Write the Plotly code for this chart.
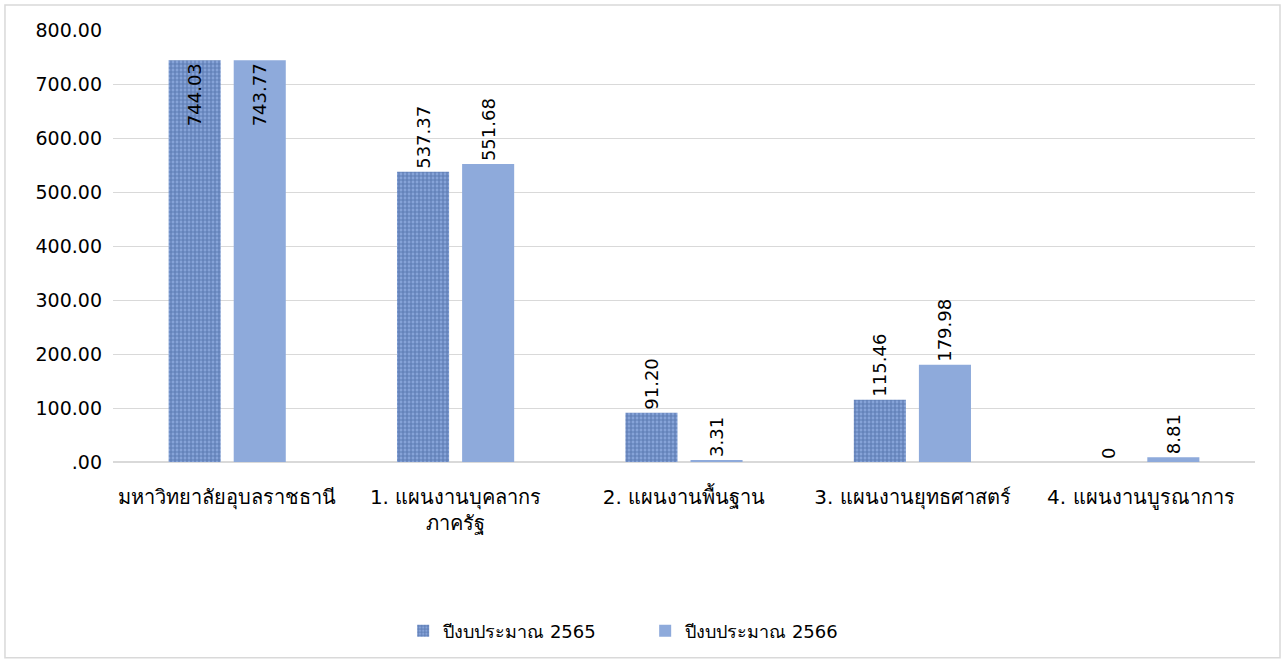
import plotly.graph_objects as go

categories = ["มหาวิทยาลัยอุบลราชธานี", "1. แผนงานบุคลากร<br>ภาครัฐ", "2. แผนงานพื้นฐาน",
              "3. แผนงานยุทธศาสตร์", "4. แผนงานบูรณาการ"]
series_names = ["ปีงบประมาณ 2565", "ปีงบประมาณ 2566"]
values_2565 = [744.03, 537.37, 91.20, 115.46, 0]
values_2566 = [743.77, 551.68, 3.31, 179.98, 8.81]
labels_2565 = ["744.03", "537.37", "91.20", "115.46", "0"]
labels_2566 = ["743.77", "551.68", "3.31", "179.98", "8.81"]
tick_vals = [0, 100, 200, 300, 400, 500, 600, 700, 800]
tick_text = [".00", "100.00", "200.00", "300.00", "400.00", "500.00", "600.00", "700.00", "800.00"]

FONT = "DejaVu Sans, Tahoma, sans-serif"
# labels that would run off the top edge go inside the bar end
text_pos = ["inside" if v > 700 else "outside" for v in values_2565]
text_pos2 = ["inside" if v > 700 else "outside" for v in values_2566]

fig = go.Figure()
fig.add_trace(go.Bar(
    x=categories, y=values_2565, name=series_names[0],
    text=labels_2565, textposition=text_pos, textangle=-90, insidetextanchor="end",
    cliponaxis=False, constraintext="none",
    textfont=dict(size=18, color="#000000", family=FONT),
    marker=dict(color="#7f9fd6",
                pattern=dict(shape="+", fgcolor="#34558f", bgcolor="#86a3d8",
                             size=4, solidity=0.5, fillmode="overlay"),
                line=dict(width=0)),
))
fig.add_trace(go.Bar(
    x=categories, y=values_2566, name=series_names[1],
    text=labels_2566, textposition=text_pos2, textangle=-90, insidetextanchor="end",
    cliponaxis=False, constraintext="none",
    textfont=dict(size=18, color="#000000", family=FONT),
    marker=dict(color="#8eaadb", line=dict(width=0)),
))

fig.update_layout(
    width=1285, height=660,
    margin=dict(l=113, r=30, t=30, b=197),
    paper_bgcolor="white", plot_bgcolor="white",
    barmode="group", bargap=0.43, bargroupgap=0.2,
    font=dict(family=FONT, size=18, color="#000000"),
    showlegend=True,
    legend=dict(orientation="h", x=0.466, xanchor="center", y=-0.388, yanchor="middle",
                font=dict(size=18, family=FONT), entrywidth=197, entrywidthmode="pixels",
                traceorder="normal"),
)
fig.update_yaxes(range=[0, 800], tickvals=tick_vals, ticktext=tick_text,
                 showgrid=True, gridcolor="#d9d9d9", gridwidth=1, zeroline=True,
                 zerolinecolor="#d9d9d9", showline=False, ticks="",
                 tickfont=dict(size=19, family=FONT), ticklabelstandoff=10)
fig.update_xaxes(showline=True, linecolor="#d9d9d9", ticks="", tickangle=0,
                 tickfont=dict(size=20, family=FONT), ticklabelstandoff=17)

fig.add_shape(type="rect", xref="paper", yref="paper",
              x0=-0.0946, x1=1.0219, y0=-0.453, y1=1.058,
              line=dict(color="#d9d9d9", width=1.5), fillcolor="rgba(0,0,0,0)", layer="below")

fig.write_html("out.html", config={"displayModeBar": False},
               post_script="document.body.style.margin='0';")
